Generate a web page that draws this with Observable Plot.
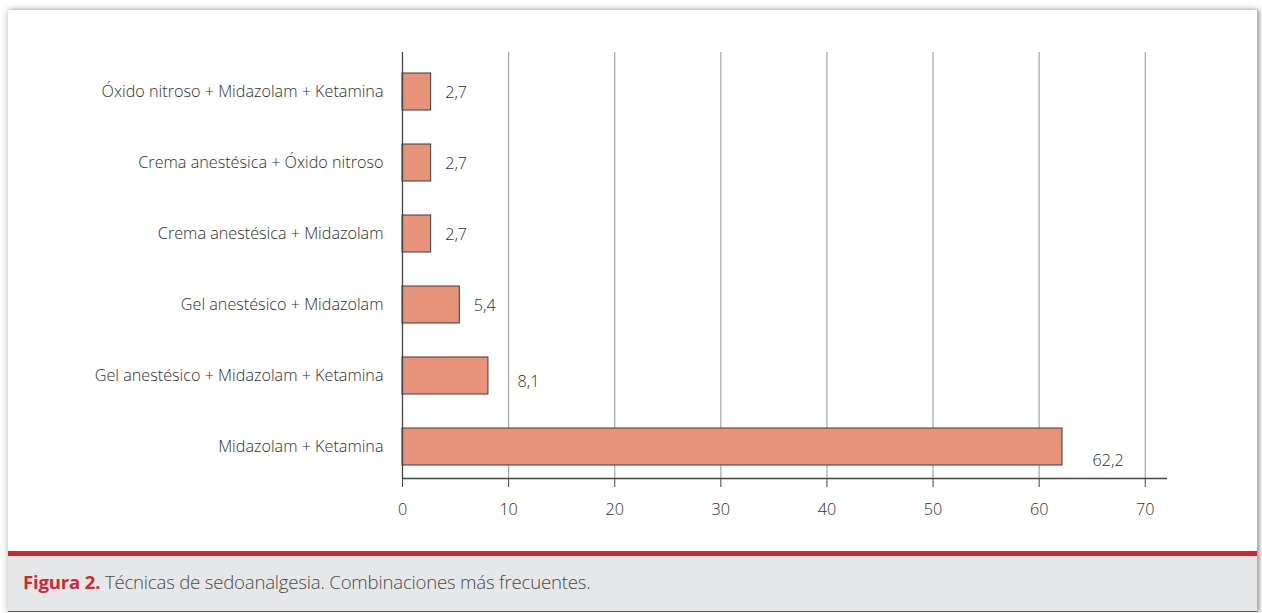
<!DOCTYPE html>
<html>
<head>
<meta charset="utf-8">
<script src="https://cdn.jsdelivr.net/npm/d3@7"></script>
<script src="https://cdn.jsdelivr.net/npm/@observablehq/plot@0.6"></script>
<style>
  html, body { margin: 0; padding: 0; background: #ffffff; }
  body { width: 1262px; height: 613px; overflow: hidden; position: relative; font-family: "Open Sans", sans-serif; }
  #card {
    position: absolute; left: 8px; top: 10px; width: 1249px; height: 603px;
    background: #fff;
    box-shadow: 0 0 7px rgba(0,0,0,0.28), 3px 0 4px rgba(0,0,0,0.25);
  }
  #chart { position: absolute; left: 0; top: 0; }
  #caption {
    position: absolute; left: 0; top: 541px; width: 1249px; height: 55px;
    background: #e6e7e9; border-top: 5px solid #d32630; border-bottom: 1px solid #d32630;
    box-sizing: content-box;
  }
  #caption p {
    margin: 0; position: absolute; left: 15px; top: 15px;
    font-family: "Open Sans", sans-serif; font-weight: 300; font-size: 18.6px; color: #4a4a4a;
    letter-spacing: -0.2px; line-height: 1.2;
  }
  #caption b { color: #d32630; font-weight: 700; }
</style>
</head>
<body>
<div id="card">
  <div id="chart"></div>
  <div id="caption"><p><b>Figura 2.</b> Técnicas de sedoanalgesia. Combinaciones más frecuentes.</p></div>
</div>
<script>
const categories = [
  "Óxido nitroso + Midazolam + Ketamina",
  "Crema anestésica + Óxido nitroso",
  "Crema anestésica + Midazolam",
  "Gel anestésico + Midazolam",
  "Gel anestésico + Midazolam + Ketamina",
  "Midazolam + Ketamina"
];
const values = [2.7, 2.7, 2.7, 5.4, 8.1, 62.2];
const valueLabels = ["2,7", "2,7", "2,7", "5,4", "8,1", "62,2"];
const xTicks = [0, 10, 20, 30, 40, 50, 60, 70];

const data = categories.map((c, i) => ({category: c, value: values[i], label: valueLabels[i]}));
const shortBars = data.filter(d => d.value < 8);
const midBars = data.filter(d => d.value >= 8 && d.value < 50);
const longBars = data.filter(d => d.value >= 50);

const textColor = "#2e2e2e";
const plot = Plot.plot({
  width: 1249,
  height: 531,
  marginLeft: 394,
  marginRight: 91,
  marginTop: 42,
  marginBottom: 63,
  style: {fontFamily: "'Open Sans', sans-serif", fontSize: "16.2px", fontWeight: 300, color: textColor, background: "transparent"},
  x: {domain: [0, 72], ticks: xTicks, label: null},
  y: {domain: categories, paddingInner: 0.483, paddingOuter: 0.216, align: 0.6, label: null},
  marks: [
    Plot.ruleX(xTicks.filter(t => t > 0), {stroke: "#a6a6a6", strokeWidth: 1.2}),
    Plot.barX(data, {x: "value", y: "category", fill: "#e69379", stroke: "#3a3a3a", strokeWidth: 1}),
    Plot.text(shortBars, {x: "value", y: "category", text: "label", textAnchor: "start", dx: 14, dy: 1, fill: textColor}),
    Plot.text(midBars, {x: "value", y: "category", text: "label", textAnchor: "start", dx: 29, dy: 6, fill: textColor}),
    Plot.text(longBars, {x: "value", y: "category", text: "label", textAnchor: "start", dx: 30, dy: 14, fill: textColor}),
    Plot.ruleX([0], {stroke: "#444", strokeWidth: 1.3}),
    Plot.frame({anchor: "bottom", stroke: "#444", strokeWidth: 1.3}),
    Plot.axisX({ticks: xTicks, tickSize: 9, tickPadding: 16, stroke: "#444", fill: textColor, label: null, tickFormat: d => String(d)}),
    Plot.axisY({tickSize: 0, tickPadding: 19, fill: textColor, label: null})
  ]
});
document.getElementById("chart").appendChild(plot);
</script>
</body>
</html>
